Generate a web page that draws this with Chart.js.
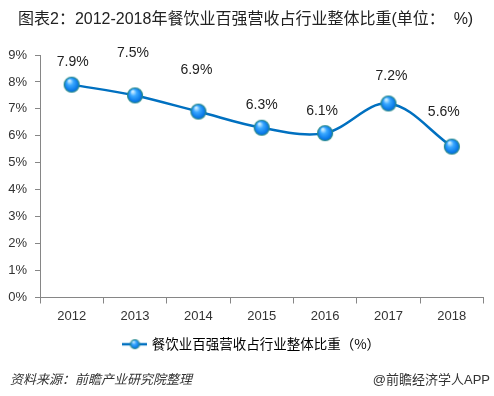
<!DOCTYPE html>
<html>
<head>
<meta charset="utf-8">
<script src="https://cdn.jsdelivr.net/npm/chart.js@4.4.1/dist/chart.umd.min.js"></script>
<style>
  html, body { margin: 0; padding: 0; background: #fff; }
  #wrap { position: relative; width: 494px; height: 396px; overflow: hidden; }
  #title { position: absolute; left: 18px; top: 5px; font: 16px "Liberation Sans", "Noto Sans CJK SC", sans-serif; color: #222; white-space: nowrap; }
  #src { position: absolute; left: 10px; top: 369px; font: italic 13px "Liberation Sans", "Noto Sans CJK SC", sans-serif; color: #333; white-space: nowrap; }
  #brand { position: absolute; right: 4px; top: 369px; font: 13px "Liberation Sans", "Noto Sans CJK SC", sans-serif; color: #333; white-space: nowrap; }
  canvas { position: absolute; left: 0; top: 0; }
</style>
</head>
<body>
<div id="wrap">
  <canvas id="c" width="494" height="396"></canvas>
  <div id="title">图表2：2012-2018年餐饮业百强营收占行业整体比重(单位：&nbsp;&nbsp;%)</div>
  <div id="src">资料来源：前瞻产业研究院整理</div>
  <div id="brand">@前瞻经济学人APP</div>
</div>
<script>
const years = ['2012', '2013', '2014', '2015', '2016', '2017', '2018'];
const shares = [7.9, 7.5, 6.9, 6.3, 6.1, 7.2, 5.6];
const seriesName = '餐饮业百强营收占行业整体比重（%）';
const yTicks = [0, 1, 2, 3, 4, 5, 6, 7, 8, 9];

function makeMarker(r) {
  const size = r * 2 + 2;
  const cv = document.createElement('canvas');
  cv.width = size; cv.height = size;
  const g = cv.getContext('2d');
  const c = size / 2;
  const grad = g.createRadialGradient(c - r * 0.3, c - r * 0.5, r * 0.1, c, c, r);
  grad.addColorStop(0, '#c8ecff');
  grad.addColorStop(0.35, '#3aa8ff');
  grad.addColorStop(0.8, '#0a7ae8');
  grad.addColorStop(1, '#0a62c4');
  g.beginPath(); g.arc(c, c, r - 0.5, 0, Math.PI * 2);
  g.fillStyle = grad; g.fill();
  g.lineWidth = 1.2; g.strokeStyle = '#2a8c8c'; g.stroke();
  return cv;
}
const marker = makeMarker(8);

function makeLegendIcon() {
  const w = 25, h = 14;
  const cv = document.createElement('canvas');
  cv.width = w; cv.height = h;
  const g = cv.getContext('2d');
  g.strokeStyle = '#0070c0'; g.lineWidth = 2.5;
  g.beginPath(); g.moveTo(0, h / 2); g.lineTo(w, h / 2); g.stroke();
  const m = makeMarker(5);
  g.drawImage(m, w / 2 - m.width / 2, h / 2 - m.height / 2);
  return cv;
}
const legendIcon = makeLegendIcon();

const labelPlugin = {
  id: 'valueLabels',
  afterDatasetsDraw(chart, args, opts) {
    const ctx = chart.ctx;
    const meta = chart.getDatasetMeta(0);
    ctx.save();
    ctx.font = '14px "Liberation Sans", Arial, sans-serif';
    ctx.fillStyle = '#222';
    ctx.textAlign = 'center';
    ctx.textBaseline = 'middle';
    meta.data.forEach((pt, i) => {
      const off = opts.offsets[i];
      ctx.fillText(shares[i].toFixed(1) + '%', pt.x + off[0], pt.y + off[1]);
    });
    ctx.restore();
  }
};

const legendShift = {
  id: 'legendShift',
  afterLayout(chart) {
    if (chart.legend) chart.legend.left += 20;
  }
};

new Chart(document.getElementById('c'), {
  type: 'line',
  data: {
    labels: years,
    datasets: [{
      label: seriesName,
      data: shares,
      borderColor: '#0070c0',
      borderWidth: 2.5,
      tension: 0.35,
      pointStyle: marker,
      pointRadius: 8,
      pointHoverRadius: 8,
      fill: false
    }]
  },
  options: {
    responsive: false,
    animation: false,
    events: [],
    layout: { padding: { top: 55, right: 9, left: 0, bottom: 35 } },
    plugins: {
      title: { display: false },
      tooltip: { enabled: false },
      valueLabels: {
        offsets: [[1, -22], [-2, -42], [-2, -41], [0, -23], [-3, -22], [3, -27], [-8, -34]]
      },
      legend: {
        position: 'bottom',
        labels: {
          usePointStyle: true,
          pointStyleWidth: 20,
          boxHeight: 14,
          padding: 10,
          color: '#111',
          font: { size: 13.5, family: '"Noto Sans CJK SC", "Liberation Sans", sans-serif' },
          generateLabels(chart) {
            return [{
              text: seriesName,
              pointStyle: legendIcon,
              fillStyle: '#0070c0',
              strokeStyle: '#0070c0',
              lineWidth: 0,
              hidden: false,
              datasetIndex: 0
            }];
          }
        }
      }
    },
    scales: {
      x: {
        offset: true,
        afterFit(s) { s.height = 30; },
        grid: { display: true, drawOnChartArea: false, offset: true, tickLength: 6, color: '#868686' },
        border: { color: '#868686', width: 1 },
        ticks: { color: '#333', font: { size: 13, family: '"Liberation Sans", Arial, sans-serif' }, padding: 5 }
      },
      y: {
        min: 0,
        max: 9,
        afterFit(s) { s.width = 40; },
        afterBuildTicks(s) { s.ticks = yTicks.map(v => ({ value: v })); },
        grid: { display: true, drawOnChartArea: false, tickLength: 5, color: '#868686' },
        border: { color: '#868686', width: 1 },
        ticks: {
          color: '#333',
          padding: 8,
          font: { size: 13, family: '"Liberation Sans", Arial, sans-serif' },
          callback: v => v + '%'
        }
      }
    }
  },
  plugins: [labelPlugin, legendShift]
});
</script>
</body>
</html>
